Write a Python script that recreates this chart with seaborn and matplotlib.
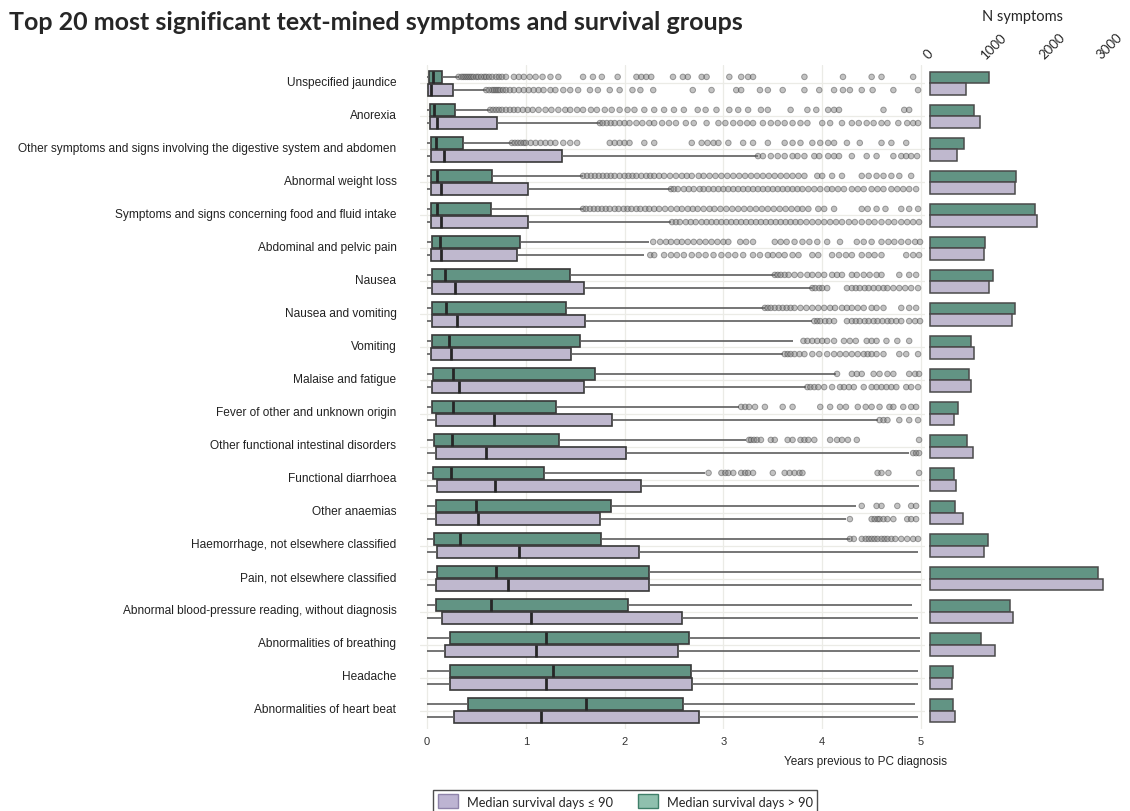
import numpy as np
import pandas as pd
import matplotlib
matplotlib.use("Agg")
import matplotlib.pyplot as plt
import matplotlib.transforms as mtransforms
import seaborn as sns
from matplotlib.patches import Patch

# symptoms, top to bottom
symptoms = [
    "Unspecified jaundice",
    "Anorexia",
    "Other symptoms and signs involving the digestive system and abdomen",
    "Abnormal weight loss",
    "Symptoms and signs concerning food and fluid intake",
    "Abdominal and pelvic pain",
    "Nausea",
    "Nausea and vomiting",
    "Vomiting",
    "Malaise and fatigue",
    "Fever of other and unknown origin",
    "Other functional intestinal disorders",
    "Functional diarrhoea",
    "Other anaemias",
    "Haemorrhage, not elsewhere classified",
    "Pain, not elsewhere classified",
    "Abnormal blood-pressure reading, without diagnosis",
    "Abnormalities of breathing",
    "Headache",
    "Abnormalities of heart beat",
]
groups = ["> 90", "≤ 90"]
legend_labels = {"> 90": "Median survival days > 90", "≤ 90": "Median survival days ≤ 90"}

# box summaries (years), median survival > 90 days
lo_gt = [0.0, 0.0, 0.0, 0.0, 0.0, 0.0, 0.0, 0.0, 0.0, 0.0,
         0.0, 0.0, 0.0, 0.0, 0.0, 0.0, 0.0, 0.0, 0.0, 0.0]
q1_gt = [0.02, 0.03, 0.04, 0.04, 0.04, 0.05, 0.05, 0.05, 0.05, 0.06,
         0.05, 0.07, 0.06, 0.09, 0.07, 0.10, 0.09, 0.23, 0.23, 0.42]
med_gt = [0.06, 0.07, 0.09, 0.10, 0.10, 0.13, 0.18, 0.19, 0.22, 0.26,
          0.26, 0.25, 0.24, 0.50, 0.33, 0.70, 0.65, 1.20, 1.28, 1.61]
q3_gt = [0.15, 0.28, 0.37, 0.66, 0.65, 0.94, 1.45, 1.41, 1.55, 1.70,
         1.31, 1.34, 1.18, 1.86, 1.76, 2.25, 2.03, 2.65, 2.67, 2.59]
hi_gt = [0.32, 0.64, 0.86, 1.58, 1.58, 2.25, 3.52, 3.42, 3.70, 4.14,
         3.16, 3.23, 2.81, 4.34, 4.28, 5.00, 4.91, 4.99, 4.97, 4.94]

# box summaries (years), median survival <= 90 days
lo_le = [0.0, 0.0, 0.0, 0.0, 0.0, 0.0, 0.0, 0.0, 0.0, 0.0,
         0.0, 0.0, 0.0, 0.0, 0.0, 0.0, 0.0, 0.0, 0.0, 0.0]
q1_le = [0.01, 0.03, 0.04, 0.04, 0.04, 0.04, 0.05, 0.05, 0.04, 0.05,
         0.09, 0.09, 0.10, 0.09, 0.10, 0.09, 0.15, 0.18, 0.23, 0.27]
med_le = [0.04, 0.10, 0.17, 0.14, 0.14, 0.14, 0.28, 0.30, 0.24, 0.32,
          0.68, 0.60, 0.69, 0.52, 0.93, 0.82, 1.05, 1.10, 1.21, 1.15]
q3_le = [0.26, 0.71, 1.37, 1.02, 1.02, 0.91, 1.59, 1.60, 1.46, 1.59,
         1.87, 2.01, 2.17, 1.75, 2.15, 2.25, 2.58, 2.54, 2.68, 2.75]
hi_le = [0.60, 1.75, 3.35, 2.47, 2.47, 2.20, 3.90, 3.90, 3.60, 3.84,
         4.56, 4.88, 4.98, 4.24, 4.97, 5.00, 4.97, 4.99, 4.97, 4.97]

# outliers (years), one list per symptom
fliers_gt = [
    [0.32, 0.35, 0.37, 0.39, 0.41, 0.43, 0.45, 0.47, 0.5, 0.52, 0.55, 0.58, 0.6, 0.63, 0.66, 0.7, 0.73,
     0.76, 0.8, 0.88, 0.93, 0.98, 1.04, 1.1, 1.17, 1.25, 1.33, 1.58, 1.68, 1.77, 1.93, 2.12, 2.17, 2.22,
     2.27, 2.49, 2.59, 2.64, 2.78, 2.83, 3.06, 3.18, 3.25, 3.3, 3.82, 4.21, 4.5, 4.6, 4.92],
    [0.64, 0.67, 0.7, 0.73, 0.76, 0.8, 0.84, 0.88, 0.92, 0.97, 1.02, 1.07, 1.13, 1.2, 1.26, 1.33, 1.4,
     1.45, 1.52, 1.58, 1.66, 1.72, 1.8, 1.87, 1.95, 2.03, 2.1, 2.2, 2.3, 2.4, 2.5, 2.6, 2.74, 2.82, 2.93,
     3.06, 3.15, 3.25, 3.38, 3.45, 3.68, 3.85, 3.94, 4.06, 4.12, 4.17, 4.62, 4.83, 4.88],
    [0.86, 0.89, 0.92, 0.95, 0.98, 1.0, 1.05, 1.1, 1.15, 1.2, 1.25, 1.3, 1.38, 1.45, 1.52, 1.85, 1.9,
     1.95, 2.0, 2.05, 2.2, 2.3, 2.68, 2.78, 2.84, 2.9, 2.95, 3.05, 3.2, 3.3, 3.45, 3.62, 3.7, 3.78, 3.9,
     3.98, 4.06, 4.12, 4.25, 4.38, 4.6, 4.7, 4.85],
    [1.58, 1.62, 1.66, 1.7, 1.74, 1.78, 1.82, 1.86, 1.9, 1.95, 2.0, 2.04, 2.08, 2.12, 2.17, 2.22, 2.26,
     2.3, 2.35, 2.4, 2.46, 2.52, 2.58, 2.63, 2.68, 2.75, 2.8, 2.86, 2.92, 2.98, 3.04, 3.1, 3.16, 3.22,
     3.28, 3.34, 3.4, 3.46, 3.52, 3.58, 3.64, 3.7, 3.76, 3.82, 3.95, 4.0, 4.1, 4.2, 4.4, 4.47, 4.55,
     4.62, 4.7, 4.78, 4.9],
    [1.58, 1.61, 1.65, 1.69, 1.73, 1.77, 1.81, 1.85, 1.9, 1.94, 1.99, 2.03, 2.07, 2.12, 2.16, 2.21, 2.25,
     2.3, 2.35, 2.41, 2.47, 2.53, 2.58, 2.64, 2.69, 2.74, 2.8, 2.86, 2.91, 2.97, 3.03, 3.09, 3.15, 3.21,
     3.27, 3.33, 3.39, 3.45, 3.51, 3.57, 3.63, 3.69, 3.75, 3.8, 3.86, 3.96, 4.02, 4.12, 4.4, 4.46,
     4.55, 4.64, 4.8, 4.88, 4.97],
    [2.29, 2.36, 2.42, 2.47, 2.53, 2.58, 2.64, 2.7, 2.76, 2.82, 2.88, 2.94, 3.0, 3.05, 3.17, 3.23, 3.3,
     3.52, 3.58, 3.64, 3.72, 3.8, 3.87, 3.95, 4.05, 4.18, 4.35, 4.42, 4.5, 4.6, 4.67, 4.73, 4.8, 4.87,
     4.94, 4.99],
    [3.52, 3.55, 3.58, 3.62, 3.66, 3.72, 3.78, 3.85, 3.9, 3.96, 4.02, 4.1, 4.15, 4.2, 4.3, 4.35, 4.42,
     4.48, 4.55, 4.6, 4.78, 4.88, 4.95],
    [3.42, 3.45, 3.48, 3.52, 3.56, 3.6, 3.64, 3.68, 3.72, 3.78, 3.84, 3.9, 3.96, 4.02, 4.08, 4.13, 4.2,
     4.25, 4.3, 4.36, 4.42, 4.5, 4.55, 4.62, 4.8, 4.88, 4.95],
    [3.81, 3.85, 3.9, 3.95, 4.0, 4.05, 4.12, 4.22, 4.28, 4.34, 4.45, 4.5, 4.55, 4.65, 4.76, 4.88],
    [4.15, 4.3, 4.35, 4.4, 4.52, 4.58, 4.66, 4.72, 4.88, 4.94, 4.98],
    [3.18, 3.22, 3.26, 3.32, 3.42, 3.6, 3.7, 3.98, 4.08, 4.18, 4.24, 4.36, 4.44, 4.5, 4.58, 4.68, 4.72,
     4.82, 4.9, 4.95],
    [3.26, 3.28, 3.31, 3.34, 3.38, 3.48, 3.52, 3.65, 3.7, 3.78, 3.82, 3.86, 3.92, 4.08, 4.15, 4.2, 4.26,
     4.35, 4.98],
    [2.85, 2.98, 3.02, 3.05, 3.1, 3.18, 3.22, 3.25, 3.3, 3.5, 3.62, 3.67, 3.72, 3.77, 3.8, 4.56, 4.6,
     4.67, 4.98],
    [4.4, 4.55, 4.6, 4.76, 4.9, 4.95],
    [4.28, 4.32, 4.4, 4.44, 4.47, 4.5, 4.53, 4.56, 4.6, 4.63, 4.66, 4.7, 4.74, 4.8, 4.86, 4.92, 4.97],
    [], [], [], [], [],
]
fliers_le = [
    [0.6, 0.63, 0.66, 0.68, 0.7, 0.72, 0.74, 0.77, 0.8, 0.84, 0.88, 0.93, 0.98, 1.03, 1.08, 1.13, 1.18,
     1.25, 1.3, 1.38, 1.45, 1.53, 1.65, 1.73, 1.85, 1.95, 2.08, 2.16, 2.29, 2.69, 2.88, 3.13, 3.18,
     3.37, 3.45, 3.6, 3.82, 3.97, 4.12, 4.21, 4.28, 4.4, 4.51, 4.72, 4.97],
    [1.75, 1.78, 1.82, 1.86, 1.9, 1.95, 2.0, 2.05, 2.12, 2.18, 2.25, 2.3, 2.38, 2.45, 2.52, 2.62, 2.7,
     2.83, 2.95, 3.02, 3.1, 3.17, 3.24, 3.3, 3.4, 3.48, 3.55, 3.62, 3.7, 3.78, 3.85, 4.0, 4.08, 4.2,
     4.3, 4.37, 4.45, 4.52, 4.6, 4.66, 4.77, 4.86, 4.92, 4.97],
    [3.35, 3.4, 3.48, 3.55, 3.62, 3.7, 3.75, 3.82, 3.92, 3.97, 4.06, 4.12, 4.17, 4.3, 4.45, 4.55, 4.72,
     4.8, 4.85, 4.9, 4.96],
    [2.47, 2.5, 2.54, 2.6, 2.65, 2.7, 2.76, 2.8, 2.85, 2.9, 2.95, 3.0, 3.05, 3.1, 3.15, 3.2, 3.25, 3.3,
     3.35, 3.4, 3.45, 3.5, 3.55, 3.6, 3.65, 3.7, 3.75, 3.8, 3.86, 3.92, 3.98, 4.05, 4.1, 4.16, 4.22,
     4.3, 4.36, 4.42, 4.5, 4.56, 4.62, 4.7, 4.76, 4.82, 4.88, 4.95],
    [2.48, 2.52, 2.56, 2.62, 2.67, 2.72, 2.78, 2.83, 2.88, 2.93, 2.98, 3.03, 3.08, 3.13, 3.18, 3.23,
     3.28, 3.33, 3.38, 3.43, 3.48, 3.53, 3.58, 3.63, 3.68, 3.73, 3.78, 3.84, 3.9, 3.96, 4.02, 4.08,
     4.14, 4.2, 4.27, 4.33, 4.4, 4.47, 4.53, 4.6, 4.67, 4.73, 4.8, 4.86, 4.92, 4.98],
    [2.26, 2.3, 2.4, 2.47, 2.53, 2.6, 2.68, 2.75, 2.82, 2.9, 2.98, 3.05, 3.12, 3.2, 3.3, 3.37, 3.45,
     3.5, 3.56, 3.62, 3.7, 3.76, 3.9, 3.96, 4.1, 4.17, 4.24, 4.3, 4.4, 4.47, 4.53, 4.6, 4.85, 4.92,
     4.98],
    [3.9, 3.93, 3.97, 4.0, 4.05, 4.25, 4.3, 4.34, 4.38, 4.43, 4.47, 4.52, 4.57, 4.62, 4.66, 4.72, 4.78,
     4.84, 4.9, 4.97],
    [3.92, 3.95, 3.98, 4.03, 4.07, 4.12, 4.25, 4.3, 4.34, 4.38, 4.43, 4.47, 4.52, 4.56, 4.61, 4.66,
     4.7, 4.75, 4.8, 4.88, 4.94, 4.99],
    [3.62, 3.65, 3.68, 3.72, 3.77, 3.82, 3.9, 3.97, 4.05, 4.12, 4.18, 4.24, 4.3, 4.36, 4.42, 4.46, 4.5,
     4.55, 4.62, 4.78, 4.85, 4.97],
    [3.85, 3.88, 3.92, 3.96, 4.02, 4.1, 4.18, 4.22, 4.27, 4.32, 4.42, 4.5, 4.55, 4.6, 4.65, 4.7, 4.75,
     4.85, 4.9, 4.97],
    [4.58, 4.62, 4.66, 4.78, 4.88, 4.97],
    [4.92, 4.95, 4.98],
    [],
    [4.28, 4.5, 4.53, 4.56, 4.58, 4.62, 4.66, 4.72, 4.86, 4.9, 4.95],
    [], [], [], [], [], [],
]

# number of symptom records
n_gt = [1028, 768, 595, 1490, 1814, 958, 1097, 1468, 705, 681,
        480, 636, 421, 439, 1005, 2906, 1392, 879, 393, 393]
n_le = [624, 867, 473, 1479, 1849, 930, 1023, 1416, 763, 716,
        416, 740, 445, 567, 941, 2993, 1433, 1121, 381, 428]

green = "#5a9c87"
purple = "#bdb4d2"
palette = {"> 90": green, "≤ 90": purple}

# long tables for seaborn
box_rows = []
for i, s in enumerate(symptoms):
    for v in (lo_gt[i], q1_gt[i], med_gt[i], q3_gt[i], hi_gt[i]):
        box_rows.append((s, "> 90", v))
    for v in (lo_le[i], q1_le[i], med_le[i], q3_le[i], hi_le[i]):
        box_rows.append((s, "≤ 90", v))
box_df = pd.DataFrame(box_rows, columns=["symptom", "group", "years"])

fl_rows = []
for i, s in enumerate(symptoms):
    fl_rows += [(s, "> 90", v) for v in fliers_gt[i]]
    fl_rows += [(s, "≤ 90", v) for v in fliers_le[i]]
fl_df = pd.DataFrame(fl_rows, columns=["symptom", "group", "years"])

n_df = pd.DataFrame({
    "symptom": symptoms * 2,
    "group": ["> 90"] * len(symptoms) + ["≤ 90"] * len(symptoms),
    "n": n_gt + n_le,
})

sns.set_theme(style="white")
plt.rcParams["font.family"] = ["Liberation Sans", "DejaVu Sans"]
myriad = ["Lato", "DejaVu Sans"]

W, H = 1130, 812
fig = plt.figure(figsize=(W / 100, H / 100), dpi=100)
ax = fig.add_axes([420 / W, 82 / H, 505 / W, 664 / H])
ax2 = fig.add_axes([925 / W, 82 / H, 195 / W, 664 / H])

sns.boxplot(data=box_df, x="years", y="symptom", hue="group", order=symptoms,
            hue_order=groups, palette=palette, orient="h", whis=(0, 100),
            showfliers=False, showcaps=False, width=0.8, gap=0.12,
            linewidth=1.2, linecolor="#383838", legend=False, ax=ax,
            medianprops=dict(color="#262626", linewidth=2),
            whiskerprops=dict(color="#5e5e5e", linewidth=1.2))
sns.stripplot(data=fl_df, x="years", y="symptom", hue="group", order=symptoms,
              hue_order=groups, palette={"> 90": "#7a7a7a", "≤ 90": "#7a7a7a"},
              dodge=True, jitter=False, size=4, linewidth=0.7, edgecolor="#3a3a3a",
              alpha=0.45, legend=False, ax=ax)

ax.set_xlim(-0.07, 5.04)
ax.set_ylim(19.56, -0.56)
ax.set_xticks([0, 1, 2, 3, 4, 5])
ax.set_xlabel("")
ax.set_ylabel("")
ax.grid(True, color="#ebebe6", linewidth=0.9)
ax.set_axisbelow(True)
for sp in ax.spines.values():
    sp.set_visible(False)
ax.tick_params(axis="y", length=16, width=0.8, color="#dcdcdc", pad=1,
               labelsize=8.6, labelcolor="#222222")
ax.tick_params(axis="x", length=0, pad=5, labelsize=8, labelcolor="#333333")
# labels sit slightly above their row in the original
shift = mtransforms.ScaledTranslation(0, 3 / 100, fig.dpi_scale_trans)
for lab in ax.get_yticklabels():
    lab.set_transform(lab.get_transform() + shift)

sns.barplot(data=n_df, x="n", y="symptom", hue="group", order=symptoms,
            hue_order=groups, palette=palette, width=0.7, gap=0,
            edgecolor="#4a4a4a", linewidth=1.1, legend=False, ax=ax2)
ax2.set_xlim(-87, 3290)
ax2.set_ylim(19.56, -0.56)
ax2.set_yticks([])
ax2.set_ylabel("")
ax2.xaxis.set_label_position("top")
ax2.xaxis.tick_top()
ax2.set_xticks([0, 1000, 2000, 3000])
ax2.set_xticklabels(["0", "1000", "2000", "3000"], rotation=45, ha="left",
                    rotation_mode="anchor", fontsize=9.5, family=myriad)
ax2.tick_params(axis="x", length=0, pad=3)
ax2.set_xlabel("N symptoms", fontsize=10.5, family=myriad, labelpad=8)
ax2.grid(False)
for sp in ax2.spines.values():
    sp.set_visible(False)

fig.text(9 / W, 1 - 23 / H, "Top 20 most significant text-mined symptoms and survival groups",
         fontsize=18, fontweight="bold", family=myriad, va="center", ha="left")
fig.text(947 / W, 1 - 762 / H, "Years previous to PC diagnosis", fontsize=8.5,
         color="#222222", ha="right", va="center")

handles = [Patch(facecolor=purple, edgecolor="#8f84aa", label=legend_labels["≤ 90"]),
           Patch(facecolor="#8fc0ae", edgecolor="#3f7f69", label=legend_labels["> 90"])]
fig.legend(handles=handles, loc="lower left", bbox_to_anchor=(427 / W, -0.01),
           ncol=2, frameon=True, fancybox=False, edgecolor="#222222",
           prop={"family": myriad, "size": 9.2}, handlelength=1.6,
           handleheight=1.3, columnspacing=1.9, borderpad=0.35, handletextpad=0.7)

fig.savefig("out.png", dpi=100)
